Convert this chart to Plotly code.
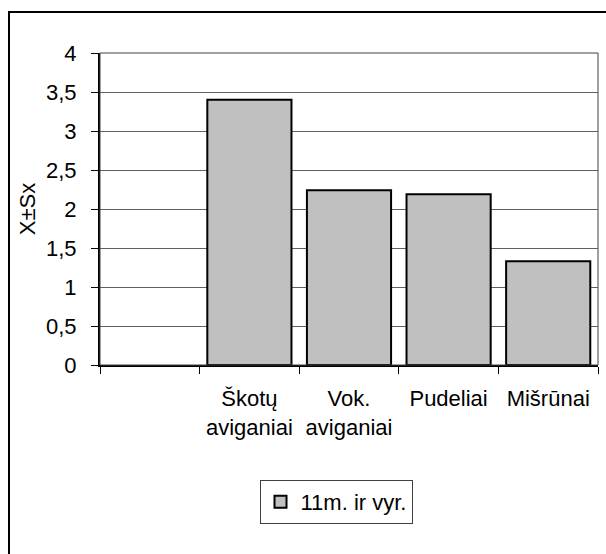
import plotly.graph_objects as go

# Breed groups (first slot intentionally left empty)
categories = [" ", "Škotų<br>aviganiai", "Vok.<br>aviganiai", "Pudeliai", "Mišrūnai"]
values = [None, 3.40, 2.24, 2.19, 1.33]
series_name = "11m. ir vyr."
y_ticks = [0, 0.5, 1, 1.5, 2, 2.5, 3, 3.5, 4]
y_tick_text = ["0", "0,5", "1", "1,5", "2", "2,5", "3", "3,5", "4"]

FONT = "Liberation Sans, Arial, sans-serif"
FS = 22

fig = go.Figure()
fig.add_trace(go.Bar(
    x=categories,
    y=values,
    name=series_name,
    marker=dict(color="#C0C0C0", line=dict(color="black", width=2)),
    showlegend=True,
))

W, H = 606, 554
L, R, T, B = 100, 8, 53, 189
pw, ph = W - L - R, H - T - B

def px_to_paper_x(px):
    return (px - L) / pw

def px_to_paper_y(py):
    return (H - B - py) / ph

fig.update_layout(
    width=W, height=H,
    margin=dict(l=L, r=R, t=T, b=B, pad=0),
    paper_bgcolor="white",
    plot_bgcolor="white",
    font=dict(family=FONT, size=FS, color="black"),
    bargap=0.155,
    showlegend=True,
    legend=dict(
        orientation="h",
        x=px_to_paper_x(336), xanchor="center",
        y=px_to_paper_y(502), yanchor="middle",
        bordercolor="#404040", borderwidth=1,
        bgcolor="white",
        font=dict(family=FONT, size=FS),
        itemwidth=30,
    ),
    xaxis=dict(
        type="category",
        categoryorder="array",
        categoryarray=categories,
        showline=True, linecolor="black", linewidth=2,
        ticks="outside", ticklen=7, tickcolor="black", tickwidth=1,
        tickson="boundaries",
        ticklabelstandoff=13,
        showgrid=False,
        tickfont=dict(family=FONT, size=FS),
        fixedrange=True,
    ),
    yaxis=dict(
        range=[0, 4],
        tickvals=y_ticks,
        ticktext=y_tick_text,
        showline=True, linecolor="black", linewidth=2,
        ticks="outside", ticklen=7, tickcolor="black", tickwidth=1,
        ticklabelstandoff=10,
        showgrid=True, gridcolor="#606060", gridwidth=1,
        zeroline=False,
        tickfont=dict(family=FONT, size=FS),
        title=dict(text="X±Sx", font=dict(family=FONT, size=FS), standoff=4),
        fixedrange=True,
    ),
    shapes=[
        # plot area frame
        dict(type="rect", xref="paper", yref="paper", x0=0, x1=1, y0=0, y1=1,
             line=dict(color="#404040", width=1), layer="above"),
        # outer chart frame
        dict(type="rect", xref="paper", yref="paper",
             x0=px_to_paper_x(9), x1=px_to_paper_x(640),
             y0=px_to_paper_y(600), y1=px_to_paper_y(12),
             line=dict(color="black", width=2)),
    ],
)

fig.write_html("out.html")
